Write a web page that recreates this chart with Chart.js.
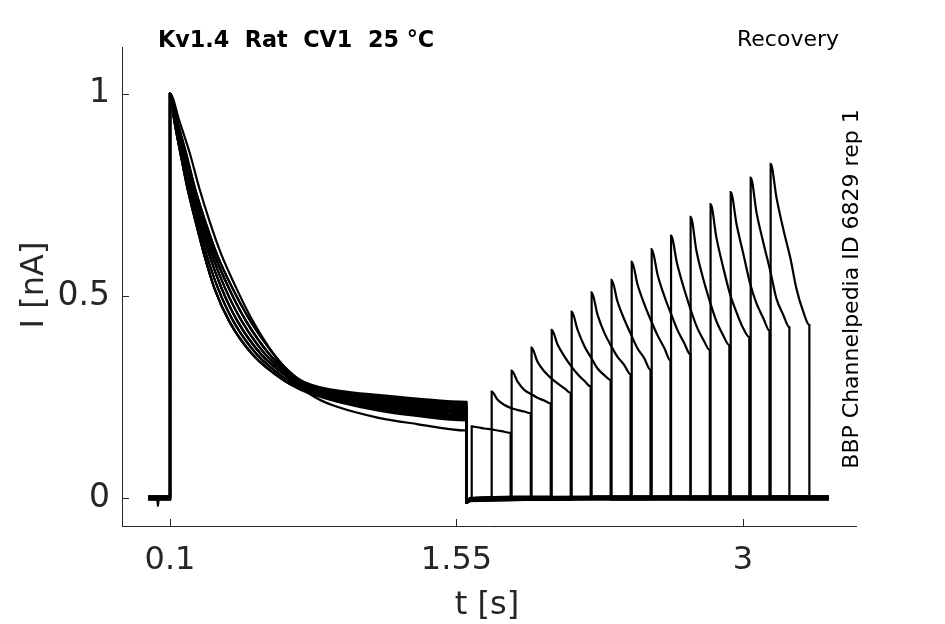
<!DOCTYPE html>
<html>
<head>
<meta charset="utf-8">
<script src="https://cdn.jsdelivr.net/npm/chart.js@4/dist/chart.umd.min.js"></script>
<style>
  html, body { margin: 0; padding: 0; background: #fff; }
</style>
</head>
<body>
<canvas id="recoveryChart" width="945" height="624"></canvas>
<script>
// Axis ticks
const xTicks = [0.1, 1.55, 3];
const yTicks = [0, 0.5, 1];

// Conditioning pulse, early decay: time at which each trace group crosses these levels
const condLevels = [1, 0.932, 0.85, 0.767, 0.685, 0.602, 0.52, 0.437, 0.355];
const condFirst = [0.1, 0.148, 0.202, 0.248, 0.300, 0.360, 0.435, 0.520, 0.625];
const condV1 = [0.1, 0.122, 0.154, 0.188, 0.229, 0.273, 0.324, 0.400, 0.518];
const condV2 = [0.1, 0.125, 0.160, 0.196, 0.240, 0.285, 0.342, 0.421, 0.540];
const condV3 = [0.1, 0.128, 0.166, 0.203, 0.250, 0.299, 0.360, 0.442, 0.562];
const condV4 = [0.1, 0.131, 0.172, 0.210, 0.259, 0.312, 0.378, 0.464, 0.583];
const condV5 = [0.1, 0.134, 0.178, 0.218, 0.268, 0.325, 0.397, 0.486, 0.604];
const condV6 = [0.1, 0.137, 0.183, 0.226, 0.278, 0.338, 0.415, 0.508, 0.626];
const condSets = [condFirst, condV1, condV2, condV3, condV4, condV5, condV6];
const traceVariant = [0, 1, 2, 3, 4, 5, 6, 1, 2, 3, 4, 5, 6, 1, 3, 5];

// Conditioning pulse, slow tail (one row per trace)
const tailTime = [0.68, 0.76, 0.85, 0.95, 1.15, 1.35, 1.6];
const tailLevels = [
    [0.320, 0.275, 0.245, 0.225, 0.199, 0.183, 0.167],
    [0.290, 0.268, 0.252, 0.238, 0.217, 0.203, 0.192],
    [0.297, 0.273, 0.257, 0.244, 0.225, 0.212, 0.202],
    [0.305, 0.277, 0.260, 0.248, 0.230, 0.218, 0.209],
    [0.312, 0.282, 0.265, 0.254, 0.238, 0.227, 0.218],
    [0.318, 0.285, 0.268, 0.258, 0.244, 0.234, 0.225],
    [0.324, 0.290, 0.273, 0.264, 0.252, 0.243, 0.235],
    [0.290, 0.270, 0.254, 0.240, 0.220, 0.206, 0.195],
    [0.297, 0.275, 0.259, 0.246, 0.228, 0.215, 0.205],
    [0.305, 0.278, 0.262, 0.250, 0.233, 0.221, 0.212],
    [0.312, 0.283, 0.267, 0.256, 0.241, 0.230, 0.222],
    [0.318, 0.287, 0.270, 0.260, 0.247, 0.237, 0.228],
    [0.324, 0.292, 0.275, 0.266, 0.255, 0.246, 0.238],
    [0.290, 0.271, 0.255, 0.242, 0.222, 0.209, 0.199],
    [0.305, 0.280, 0.263, 0.252, 0.236, 0.224, 0.215],
    [0.318, 0.288, 0.272, 0.262, 0.249, 0.240, 0.231],
];

// Test pulses
const testStart = [1.627, 1.728, 1.829, 1.930, 2.032, 2.133, 2.234, 2.335, 2.437, 2.538, 2.636, 2.735, 2.836, 2.938, 3.039, 3.140];
const testEnd = [1.824, 1.926, 2.027, 2.128, 2.229, 2.330, 2.431, 2.532, 2.633, 2.734, 2.832, 2.931, 3.032, 3.134, 3.235, 3.336];
const testOffset = [0, 0.03, 0.065, 0.1, 0.13, 0.165];
const testLevels = [
    [0.177, 0.175, 0.172, 0.170, 0.167, 0.164, 0.161],
    [0.263, 0.243, 0.230, 0.222, 0.218, 0.214, 0.210],
    [0.315, 0.288, 0.267, 0.257, 0.248, 0.241, 0.234],
    [0.372, 0.337, 0.313, 0.296, 0.284, 0.272, 0.260],
    [0.416, 0.379, 0.350, 0.325, 0.307, 0.290, 0.276],
    [0.461, 0.416, 0.375, 0.346, 0.321, 0.304, 0.292],
    [0.509, 0.453, 0.408, 0.375, 0.350, 0.329, 0.306],
    [0.540, 0.486, 0.441, 0.403, 0.371, 0.346, 0.317],
    [0.585, 0.527, 0.478, 0.436, 0.403, 0.371, 0.340],
    [0.616, 0.552, 0.498, 0.453, 0.416, 0.383, 0.355],
    [0.649, 0.581, 0.519, 0.465, 0.424, 0.390, 0.366],
    [0.696, 0.610, 0.540, 0.482, 0.438, 0.402, 0.378],
    [0.727, 0.643, 0.568, 0.502, 0.461, 0.420, 0.398],
    [0.757, 0.676, 0.601, 0.527, 0.482, 0.445, 0.414],
    [0.793, 0.705, 0.630, 0.560, 0.494, 0.453, 0.422],
    [0.827, 0.742, 0.663, 0.593, 0.519, 0.461, 0.428],
];

// Baselines
const preStart = -0.01;
const dipTime = [0.035, 0.039, 0.043];
const dipLevel = [0, -0.02, 0];
const undershoot = [-0.012, -0.004];
const baseLevel = [0.002, -0.003, 0.003, -0.001, 0.004, -0.004, 0.001, -0.002, 0.003, -0.003, 0.002, 0, -0.002, 0.004, -0.001, 0.001];
const traceStop = 3.435;

const axisColor = "#262626";
const fontFamily = "'DejaVu Sans', sans-serif";

function buildTrace(k) {
    const b = baseLevel[k];
    const pts = [{x: preStart, y: b}];
    if (k === 0) {
        dipTime.forEach((t, i) => pts.push({x: t, y: dipLevel[i]}));
    }
    const early = condSets[traceVariant[k]];
    pts.push({x: early[0], y: b});
    early.forEach((t, i) => pts.push({x: t, y: condLevels[i]}));
    const tail = tailLevels[k];
    tailTime.forEach((t, i) => pts.push({x: t, y: tail[i]}));
    const tDrop = tailTime[tailTime.length - 1];
    pts.push({x: tDrop, y: undershoot[0]});
    pts.push({x: tDrop + 0.018, y: undershoot[1] + b});
    pts.push({x: testStart[k], y: b});
    const lv = testLevels[k];
    testOffset.forEach((o, i) => pts.push({x: testStart[k] + o, y: lv[i]}));
    pts.push({x: testEnd[k], y: lv[lv.length - 1]});
    pts.push({x: testEnd[k], y: b});
    pts.push({x: traceStop, y: b});
    return pts;
}

const datasets = testStart.map((_, k) => ({
    data: buildTrace(k),
    showLine: true,
    borderColor: "#000",
    borderWidth: 2.2,
    pointRadius: 0,
    cubicInterpolationMode: "monotone",
}));

// Inward tick marks, axis titles and side labels
const decorations = {
    id: "decorations",
    afterDraw(chart) {
        const ctx = chart.ctx;
        const xs = chart.scales.x, ys = chart.scales.y;
        const area = chart.chartArea;
        ctx.save();
        ctx.strokeStyle = axisColor;
        ctx.lineWidth = 1;
        xTicks.forEach(v => {
            const px = Math.round(xs.getPixelForValue(v)) + 0.5;
            ctx.beginPath();
            ctx.moveTo(px, area.bottom);
            ctx.lineTo(px, area.bottom - 7);
            ctx.stroke();
        });
        yTicks.forEach(v => {
            const py = Math.round(ys.getPixelForValue(v)) + 0.5;
            ctx.beginPath();
            ctx.moveTo(area.left, py);
            ctx.lineTo(area.left + 7, py);
            ctx.stroke();
        });

        ctx.fillStyle = axisColor;
        ctx.font = "32px " + fontFamily;
        ctx.textAlign = "center";
        ctx.textBaseline = "alphabetic";
        ctx.fillText("t [s]", 487, 614);

        ctx.save();
        ctx.translate(43, 285);
        ctx.rotate(-Math.PI / 2);
        ctx.fillText("I [nA]", 0, 0);
        ctx.restore();

        ctx.fillStyle = "#000";
        ctx.font = "bold 22.3px " + fontFamily;
        ctx.textAlign = "left";
        ctx.fillText("Kv1.4  Rat  CV1  25 \u00B0C", 158, 47);

        ctx.font = "22px " + fontFamily;
        ctx.textAlign = "right";
        ctx.fillText("Recovery", 839, 46);

        ctx.save();
        ctx.translate(858, 289);
        ctx.rotate(-Math.PI / 2);
        ctx.textAlign = "center";
        ctx.fillText("BBP Channelpedia ID 6829 rep 1", 0, 0);
        ctx.restore();
        ctx.restore();
    }
};

const recoveryChart = new Chart(document.getElementById("recoveryChart"), {
    type: "scatter",
    data: { datasets },
    options: {
        responsive: false,
        animation: false,
        layout: { padding: { top: 47, right: 89, left: 0, bottom: 0 } },
        plugins: { legend: { display: false }, tooltip: { enabled: false } },
        scales: {
            x: {
                type: "linear",
                min: -0.143,
                max: 3.572,
                afterBuildTicks: s => { s.ticks = xTicks.map(v => ({ value: v })); },
                afterFit: s => { s.height = 98; },
                grid: { display: false, drawTicks: false },
                border: { display: true, color: axisColor, width: 1 },
                ticks: {
                    autoSkip: false, maxRotation: 0, padding: 15,
                    color: axisColor,
                    font: { family: fontFamily, size: 32 },
                    callback: v => String(v),
                },
            },
            y: {
                type: "linear",
                min: -0.0693,
                max: 1.116,
                afterBuildTicks: s => { s.ticks = yTicks.map(v => ({ value: v })); },
                afterFit: s => { s.width = 122; },
                grid: { display: false, drawTicks: false },
                border: { display: true, color: axisColor, width: 1 },
                ticks: {
                    padding: 12,
                    color: axisColor,
                    font: { family: fontFamily, size: 33 },
                    callback: v => String(v),
                },
            },
        },
    },
    plugins: [decorations],
});
</script>
</body>
</html>
